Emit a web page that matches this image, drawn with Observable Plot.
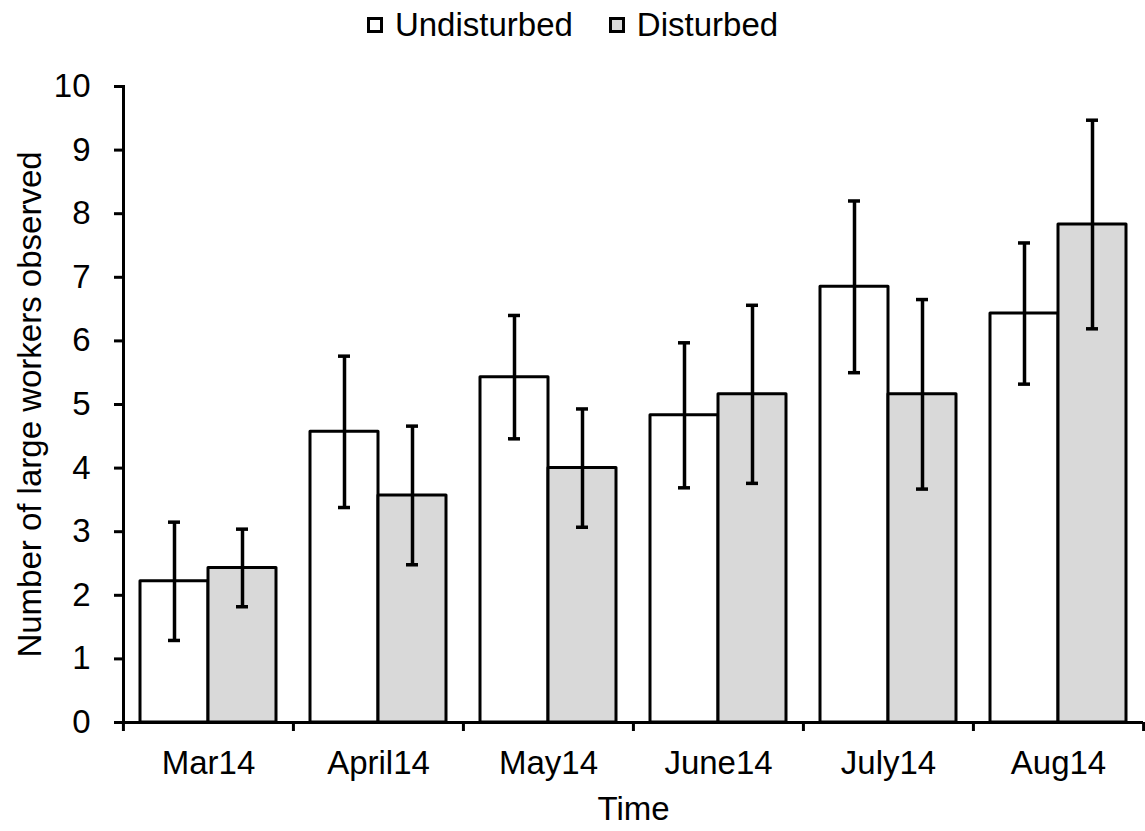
<!DOCTYPE html>
<html><head><meta charset="utf-8">
<script src="https://cdn.jsdelivr.net/npm/d3@7"></script>
<script src="https://cdn.jsdelivr.net/npm/@observablehq/plot@0.6"></script>
<style>
body{margin:0;background:#fff;font-family:"Liberation Sans",Arial,sans-serif;}
#legend{height:50px;display:flex;justify-content:center;align-items:center;font-size:33px;color:#000;}
.item{display:flex;align-items:center;}
.item + .item{margin-left:36px;}
.sw{width:16px;height:16px;border:3px solid #000;box-sizing:border-box;margin-right:12px;}
</style></head><body>
<div id="legend"></div>
<div id="chart"></div>
<script>
const months = ["Mar14", "April14", "May14", "June14", "July14", "Aug14"];
const seriesNames = ["Undisturbed", "Disturbed"];
const seriesFills = ["#ffffff", "#d9d9d9"];
const undisturbed = [2.22, 4.57, 5.43, 4.83, 6.85, 6.43];
const undisturbedErr = [0.93, 1.19, 0.97, 1.14, 1.35, 1.11];
const disturbed = [2.43, 3.57, 4.00, 5.16, 5.16, 7.83];
const disturbedErr = [0.61, 1.09, 0.93, 1.40, 1.49, 1.64];
const yTicks = [0, 1, 2, 3, 4, 5, 6, 7, 8, 9, 10];

const rows = [];
months.forEach((m, i) => {
  rows.push({month: m, series: seriesNames[0], value: undisturbed[i], err: undisturbedErr[i]});
  rows.push({month: m, series: seriesNames[1], value: disturbed[i], err: disturbedErr[i]});
});

// legend
const legend = document.getElementById("legend");
seriesNames.forEach((s, i) => {
  const it = document.createElement("div"); it.className = "item";
  const sw = document.createElement("div"); sw.className = "sw"; sw.style.background = seriesFills[i];
  const t = document.createElement("span"); t.textContent = s;
  it.appendChild(sw); it.appendChild(t); legend.appendChild(it);
});

const W = 1145, H = 781, mL = 122, mR = 2, mT = 36, mB = 109;
const half = (W - mL - mR) / months.length / 2;
const font = "'Liberation Sans', Arial, sans-serif";

const chart = Plot.plot({
  width: W, height: H,
  marginLeft: mL, marginRight: mR, marginTop: mT, marginBottom: mB,
  style: {fontFamily: font, fontSize: "33px", color: "black", background: "white", overflow: "visible"},
  fx: {domain: months, padding: 0},
  x: {domain: seriesNames, paddingInner: 0, paddingOuter: 0.25, axis: null},
  y: {domain: [0, 10]},
  color: {domain: seriesNames, range: seriesFills},
  marks: [
    Plot.barY(rows, {fx: "month", x: "series", y: "value", fill: "series", stroke: "black", strokeWidth: 3, strokeLinejoin: "round"}),
    Plot.ruleY([0], {strokeWidth: 3}),
    Plot.ruleX(rows, {fx: "month", x: "series", y1: d => d.value - d.err, y2: d => d.value + d.err, strokeWidth: 3.5}),
    Plot.tickY(rows, {fx: "month", x: "series", y: d => d.value + d.err, strokeWidth: 3.5, insetLeft: 28, insetRight: 28}),
    Plot.tickY(rows, {fx: "month", x: "series", y: d => d.value - d.err, strokeWidth: 3.5, insetLeft: 28, insetRight: 28}),
    Plot.frame({anchor: "left", facetAnchor: "left", strokeWidth: 3}),
    Plot.axisY({ticks: yTicks, tickSize: 9, tickPadding: 24, strokeWidth: 3, fontSize: 33,
      label: "Number of large workers observed", labelAnchor: "center", labelArrow: "none", labelOffset: 106}),
    Plot.axisFx({anchor: "bottom", tickSize: 0, tickPadding: 28, fontSize: 33, label: "Time", labelAnchor: "center", labelArrow: "none", labelOffset: 97}),
    Plot.axisFx({anchor: "bottom", text: null, tickSize: 9, dx: -half, strokeWidth: 3, label: null}),
    Plot.axisFx({anchor: "bottom", ticks: [months[months.length - 1]], text: null, tickSize: 9, dx: half, strokeWidth: 3, label: null})
  ]
});
document.getElementById("chart").appendChild(chart);
</script>
</body></html>
